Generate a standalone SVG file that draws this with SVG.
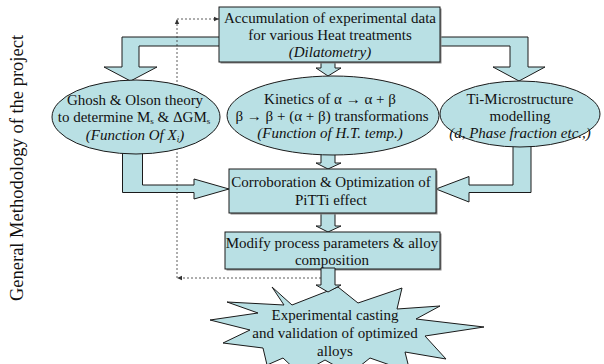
<svg xmlns="http://www.w3.org/2000/svg" width="604" height="364" viewBox="0 0 604 364">
<style>
.shape{fill:#b9e0e4;stroke:#1a1a1a;stroke-width:1}
.shadow{fill:#8a8a8a}
.t{font-family:"Liberation Serif","Times New Roman",serif;font-size:15px;fill:#111;text-anchor:middle}
.i{font-style:italic}
.dash{fill:none;stroke:#333;stroke-width:0.8;stroke-dasharray:2 2}
</style>
<defs>
<marker id="ah" markerWidth="6" markerHeight="6" refX="5" refY="3" orient="auto" markerUnits="userSpaceOnUse">
<path d="M0,0.8 L5,3 L0,5.2 Z" fill="#333"/>
</marker>
</defs>
<rect width="604" height="364" fill="#fff"/>

<text class="t" style="font-size:18.5px" transform="translate(23,168) rotate(-90)">General Methodology of the project</text>

<g id="connectors">
<polygon class="shape" points="225,37 122,37 122,67 104,67 130.5,81 157,67 139,67 139,46 225,46"/>
<polygon class="shape" points="435,37 528,37 528,67 545,67 519,81 493,67 510,67 510,46 435,46"/>
<polygon class="shape" points="321,58 335,58 335,68 341,68 328,76 316,68 321,68"/>
<polygon class="shape" points="321,145 335,145 335,163 341,163 328,169 316,163 321,163"/>
<polygon class="shape" points="122.5,145 142.5,145 142.5,185 194,185 194,179 229,189 194,199 194,192.5 122.5,192.5"/>
<polygon class="shape" points="531,140 531,192.5 469,192.5 469,202 436,189 469,176.5 469,185 513,185 513,140"/>
<polygon class="shape" points="321,210 335,210 335,226 341,226 328,232 316,226 321,226"/>
<polyline class="dash" points="321,278 177,278" marker-end="url(#ah)"/>
<polyline class="dash" points="177,278 177,19" marker-end="url(#ah)"/>
<polyline class="dash" points="177,19 219,19" marker-end="url(#ah)"/>
</g>

<g id="n1">
<rect class="shadow" x="220.5" y="8.5" width="221" height="55"/>
<rect class="shape" x="219" y="7" width="221" height="55"/>
<text class="t" x="330" y="23">Accumulation of experimental data</text>
<text class="t" x="330" y="40">for various Heat treatments</text>
<text class="t i" x="330" y="57">(Dilatometry)</text>
</g>

<g id="n2">
<ellipse class="shape" cx="136" cy="117" rx="84" ry="37"/>
<text class="t" x="135" y="105">Ghosh &amp; Olson theory</text>
<text class="t" x="134" y="121.5">to determine M<tspan font-size="9" dy="2">s</tspan><tspan dy="-2"> &amp; ΔGM</tspan><tspan font-size="9" dy="2">s</tspan></text>
<text class="t i" x="135" y="139.5">(Function Of X<tspan font-size="9" dy="2">i</tspan><tspan dy="-2">)</tspan></text>
</g>

<g id="n3">
<ellipse class="shape" cx="333" cy="115.5" rx="106" ry="39.5"/>
<text class="t" x="330" y="104">Kinetics of α → α + β</text>
<text class="t" x="332" y="121">β → β + (α + β) transformations</text>
<text class="t i" x="330" y="138">(Function of H.T. temp.)</text>
</g>

<g id="n4">
<ellipse class="shape" cx="520" cy="114" rx="80" ry="33"/>
<text class="t" x="520" y="104">Ti-Microstructure</text>
<text class="t" x="520" y="121">modelling</text>
<text class="t i" x="520" y="138">(d, Phase fraction etc.,)</text>
</g>

<g id="n5">
<rect class="shadow" x="230.5" y="170.5" width="207" height="44"/>
<rect class="shape" x="229" y="169" width="207" height="44"/>
<text class="t" x="331" y="187">Corroboration &amp; Optimization of</text>
<text class="t" x="331" y="205">PiTTi effect</text>
</g>

<g id="n6">
<rect class="shadow" x="226.5" y="233.5" width="215" height="37"/>
<rect class="shape" x="225" y="232" width="215" height="37"/>
<text class="t" x="332" y="248">Modify process parameters &amp; alloy</text>
<text class="t" x="332" y="265">composition</text>
</g>

<g id="n7">
<polygon class="shape" points="272,287 292,305 338,287 358,303 402,288 397,309 440,306 416,319 484,327 425,336 446,359 405,352 410,372 370,358 350,374 325,360 300,374 283,358 267,365 263,348 223,343 250,330 210,320 258,313 227,302 284,305"/>
<polygon class="shape" points="321,268 335,268 335,285 341,285 328,292 316,285 321,285"/>
<text class="t" x="335" y="320">Experimental casting</text>
<text class="t" x="335" y="338">and validation of optimized</text>
<text class="t" x="335" y="356">alloys</text>
</g>
</svg>
